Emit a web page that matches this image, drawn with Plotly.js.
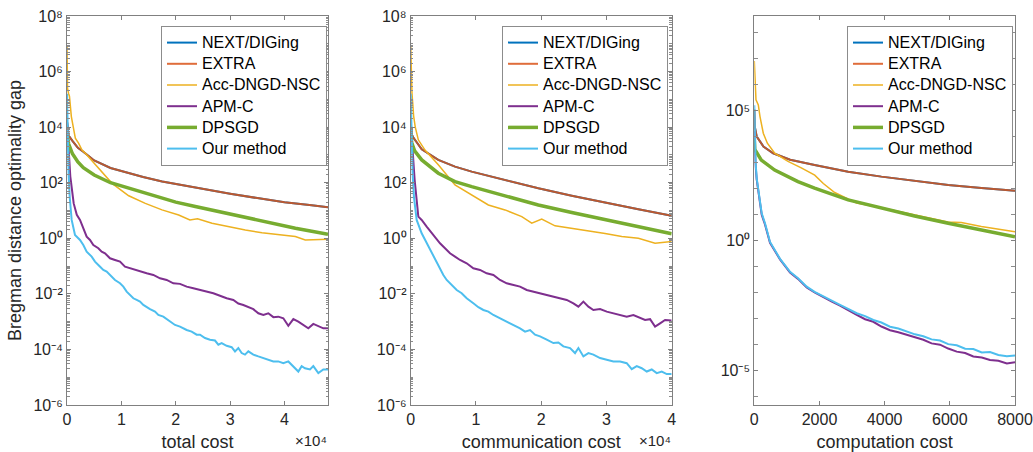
<!DOCTYPE html>
<html><head><meta charset="utf-8">
<script src="https://cdn.plot.ly/plotly-3.0.1.min.js"></script>
<style>html,body{margin:0;padding:0;background:#fff;} #chart{width:1033px;height:452px;}</style>
</head><body><div id="chart"></div>
<script>
// ---------- Series names ----------
const seriesNames = ['NEXT/DIGing','EXTRA','Acc-DNGD-NSC','APM-C','DPSGD','Our method'];

// ---------- Panel 1: total cost ----------
const tcExtraX = [0, 300, 1000, 2000, 3000, 5000, 8000, 11000, 14000, 17500, 20000, 25000, 30000, 35000, 40000, 45000, 48000];
const tcExtraY = [1.6e4, 5.0e3, 3.2e3, 1.8e3, 1.3e3, 6.3e2, 3.4e2, 2.3e2, 1.6e2, 1.1e2, 89, 59, 40, 28, 20, 15.5, 13.2];
const tcNextX = tcExtraX, tcNextY = tcExtraY; // coincides with EXTRA
const tcAccX = [0, 100, 300, 450, 800, 1230, 1530, 2150, 2760, 3370, 5200, 8280, 11350, 14400, 17470, 20540, 22600, 24000, 26670, 29740, 32790, 35860, 38930, 41990, 43820, 46000, 48000];
const tcAccY = [9.1e6, 2.5e5, 1.6e5, 1.3e5, 2.4e4, 9.1e3, 4.0e3, 2.6e3, 1.5e3, 1.15e3, 4.4e2, 95, 34, 18, 10.5, 6.9, 4.6, 5.0, 3.5, 2.6, 2.0, 1.58, 1.32, 1.15, 0.87, 0.93, 0.93];
const tcApmX = [0, 150, 313, 607, 1230, 1800, 2391, 3004, 3617, 4230, 4843, 5763, 6376, 6989, 7908, 8828, 9747, 10667, 11586, 12506, 13425, 14651, 15877, 17103, 18329, 19555, 20781, 22007, 23233, 24459, 25685, 26911, 28137, 29363, 30589, 31509, 32429, 33348, 34267, 35187, 36106, 37026, 37945, 38865, 39784, 40704, 41623, 42543, 43462, 44381, 45301, 46221, 47140, 48000];
const tcApmY = [1.5e4, 4.0e3, 1.5e3, 1.7e2, 18, 7.0, 4.57, 2.29, 1.15, 0.871, 0.575, 0.437, 0.331, 0.288, 0.191, 0.166, 0.145, 0.0955, 0.0832, 0.0724, 0.0631, 0.0550, 0.0479, 0.0363, 0.0316, 0.0240, 0.0229, 0.0182, 0.0158, 0.0138, 0.0120, 0.0105, 0.00851, 0.00692, 0.00603, 0.0045, 0.00398, 0.00331, 0.00282, 0.00200, 0.00174, 0.00200, 0.00145, 0.00151, 0.00132, 7.1e-4, 0.00123, 0.00100, 7.6e-4, 5.75e-4, 8.3e-4, 7.1e-4, 5.75e-4, 5.75e-4];
const tcDpsX = [0, 300, 1000, 2000, 3000, 5000, 8000, 11000, 14000, 17500, 20000, 23600, 27000, 30000, 33000, 36000, 39000, 42000, 45000, 48000];
const tcDpsY = [6.3e3, 2.5e3, 1.1e3, 5.6e2, 3.5e2, 1.9e2, 1.0e2, 68, 45, 28, 20, 14, 10, 7.4, 5.5, 4.0, 3.0, 2.3, 1.8, 1.4];
const tcOurX = [0, 60, 150, 300, 500, 700, 859, 1472, 2391, 3004, 3617, 4537, 5150, 5763, 6682, 7295, 7908, 8828, 9747, 10360, 10973, 11586, 12199, 12812, 13425, 14038, 14651, 15264, 16184, 16797, 17716, 18329, 19249, 19862, 20781, 21394, 22007, 22927, 23846, 24459, 25379, 26298, 27218, 27831, 28444, 29363, 30283, 30896, 31509, 32122, 32735, 33348, 34267, 35187, 36106, 37026, 37945, 38865, 39784, 40704, 41623, 42543, 43155, 43768, 44688, 45301, 46221, 47140, 48000];
const tcOurY = [1.6e5, 3.0e4, 3.0e3, 2.0e2, 30, 9.0, 4.57, 1.32, 0.871, 0.575, 0.331, 0.219, 0.145, 0.110, 0.0724, 0.0631, 0.0479, 0.0316, 0.0240, 0.0182, 0.0120, 0.00912, 0.00692, 0.00603, 0.00525, 0.00398, 0.00331, 0.00282, 0.00229, 0.00174, 0.00151, 0.00123, 8.71e-4, 7.59e-4, 6.61e-4, 5.75e-4, 5.01e-4, 4.37e-4, 3.39e-4, 3.39e-4, 2.57e-4, 2.24e-4, 2.09e-4, 1.48e-4, 1.70e-4, 1.35e-4, 1.20e-4, 8.5e-5, 1.12e-4, 7.4e-5, 6.5e-5, 8.5e-5, 6.5e-5, 5.6e-5, 4.9e-5, 4.3e-5, 3.7e-5, 3.7e-5, 3.2e-5, 3.7e-5, 2.5e-5, 1.6e-5, 2.5e-5, 2.1e-5, 1.9e-5, 2.5e-5, 1.4e-5, 1.9e-5, 1.9e-5];

// ---------- Panel 2: communication cost ----------
const ccExtraX = [0, 150, 400, 1690, 4230, 6790, 9350, 14460, 19560, 24680, 29790, 34890, 40000];
const ccExtraY = [1.6e4, 5.6e3, 4.2e3, 1.6e3, 6.6e2, 3.8e2, 2.5e2, 1.26e2, 63, 34, 19, 11, 6.5];
const ccNextX = ccExtraX, ccNextY = ccExtraY; // coincides with EXTRA
const ccAccX = [0, 80, 200, 300, 450, 700, 1170, 2190, 4230, 6790, 9350, 11900, 14460, 17020, 18550, 20080, 22120, 24680, 27230, 29790, 32350, 34890, 37450, 40000];
const ccAccY = [9.1e6, 2.5e5, 1.6e5, 7.9e4, 2.5e4, 1.0e4, 3.5e3, 1.5e3, 4.4e2, 83, 36, 15.8, 10.5, 6.0, 3.5, 4.9, 2.8, 2.3, 1.9, 1.5, 1.15, 1.0, 0.66, 0.76];
const ccApmX = [0, 150, 300, 600, 1170, 1682, 2448, 3215, 3981, 4492, 5259, 6025, 6792, 7558, 8580, 9602, 10624, 11646, 12668, 13690, 14712, 15734, 16756, 17778, 18800, 19822, 20844, 21866, 22888, 23910, 24932, 25699, 26465, 27232, 27998, 29020, 30042, 31064, 32086, 33108, 34130, 35152, 35919, 36685, 37452, 38218, 38985, 40000];
const ccApmY = [1.5e4, 4.0e3, 1.2e3, 1.3e2, 6.0, 4.57, 2.63, 1.51, 0.871, 0.661, 0.437, 0.288, 0.219, 0.166, 0.126, 0.0832, 0.0724, 0.0550, 0.0479, 0.0316, 0.0240, 0.0209, 0.0182, 0.0138, 0.0120, 0.0105, 0.00912, 0.00794, 0.00692, 0.00603, 0.00457, 0.00347, 0.00525, 0.00347, 0.00263, 0.00282, 0.00229, 0.00200, 0.00174, 0.00151, 0.00174, 0.00132, 0.00115, 0.00123, 6.6e-4, 8.7e-4, 0.00115, 0.00110];
const ccDpsX = [0, 150, 600, 1690, 4230, 6790, 9350, 14460, 19560, 24680, 29790, 34890, 40000];
const ccDpsY = [7.9e3, 2.8e3, 1.4e3, 6.6e2, 2.2e2, 1.1e2, 72, 34, 15.8, 8.5, 4.6, 2.6, 1.45];
const ccOurX = [0, 60, 150, 300, 500, 700, 915, 1682, 2448, 3215, 3981, 4492, 5003, 5514, 6281, 7047, 7814, 8580, 9602, 10369, 11135, 11902, 12668, 13690, 14712, 15734, 16756, 17523, 18289, 19056, 19822, 20844, 21866, 22633, 23399, 24421, 25188, 25699, 26465, 27232, 27998, 29020, 30042, 31064, 32086, 33108, 33875, 34641, 35408, 36174, 36941, 37707, 38474, 39240, 40000];
const ccOurY = [1.6e5, 3.0e4, 3.0e3, 2.0e2, 30, 9.0, 4.57, 1.51, 0.661, 0.288, 0.126, 0.0724, 0.0479, 0.0316, 0.0209, 0.0138, 0.0105, 0.00692, 0.00457, 0.00331, 0.00263, 0.00229, 0.00174, 0.00132, 0.00100, 7.6e-4, 5.75e-4, 4.37e-4, 5.0e-4, 3.39e-4, 2.95e-4, 2.24e-4, 1.70e-4, 1.78e-4, 1.29e-4, 1.12e-4, 7.4e-5, 1.12e-4, 5.6e-5, 7.4e-5, 6.5e-5, 4.9e-5, 4.3e-5, 3.7e-5, 3.7e-5, 3.2e-5, 1.95e-5, 2.5e-5, 2.1e-5, 1.6e-5, 1.9e-5, 1.4e-5, 1.6e-5, 1.3e-5, 1.3e-5];

// ---------- Panel 3: computation cost ----------
const cpExtraX = [0, 12, 75, 280, 580, 1100, 1850, 2880, 3900, 4920, 5950, 6970, 8000];
const cpExtraY = [1.1e5, 2.5e4, 1.0e4, 4.2e3, 2.3e3, 1.3e3, 8.1e2, 4.5e2, 2.9e2, 1.95e2, 1.38e2, 1.07e2, 83];
const cpNextX = cpExtraX, cpNextY = cpExtraY; // coincides with EXTRA
const cpAccX = [0, 52, 123, 175, 276, 400, 626, 1034, 1442, 1854, 2118, 2467, 2876, 3143, 3898, 4923, 5945, 6353, 6967, 8000];
const cpAccY = [8.1e6, 2.6e5, 1.66e5, 5.9e4, 1.35e4, 5.6e3, 2.3e3, 1.12e3, 6.3e2, 3.3e2, 1.58e2, 71, 40, 28, 18.6, 10, 5.2, 5.0, 3.5, 2.2];
const cpApmX = [0, 12, 40, 74, 114, 175, 227, 328, 482, 789, 1096, 1341, 1608, 1850, 2118, 2380, 2630, 2880, 3143, 3400, 3652, 3900, 4165, 4420, 4677, 4930, 5187, 5440, 5699, 5950, 6212, 6470, 6721, 6980, 7233, 7490, 7750, 8000];
const cpApmY = [1.6e4, 4.0e3, 7.9e2, 2.2e2, 89, 24, 10, 4.2, 0.83, 0.19, 0.060, 0.034, 0.0158, 0.0102, 0.0066, 0.0045, 0.0032, 0.0021, 0.00141, 9.5e-4, 7.6e-4, 5.0e-4, 3.6e-4, 3.0e-4, 2.4e-4, 2.0e-4, 1.55e-4, 1.12e-4, 1.0e-4, 7.1e-5, 5.4e-5, 4.8e-5, 3.5e-5, 3.2e-5, 2.6e-5, 2.4e-5, 1.9e-5, 2.1e-5];
const cpDpsX = [0, 15, 215, 625, 1340, 1850, 2880, 3900, 4920, 5950, 6970, 8000];
const cpDpsY = [7.9e3, 3.2e3, 1.26e3, 5.2e2, 1.86e2, 1.05e2, 37, 17.8, 8.9, 4.7, 2.6, 1.41];
const cpOurX = [0, 12, 40, 74, 114, 175, 227, 328, 482, 789, 1096, 1341, 1608, 1850, 2118, 2380, 2630, 2880, 3143, 3400, 3652, 3900, 4165, 4420, 4677, 4930, 5187, 5440, 5699, 5950, 6212, 6470, 6721, 6980, 7233, 7490, 7750, 8000];
const cpOurY = [1.6e5, 7.1e3, 1.0e3, 2.5e2, 1.0e2, 25, 11.2, 4.7, 0.89, 0.20, 0.063, 0.036, 0.017, 0.0107, 0.0071, 0.0050, 0.0034, 0.0024, 0.00162, 0.00126, 8.9e-4, 7.1e-4, 4.9e-4, 4.2e-4, 3.2e-4, 2.5e-4, 2.1e-4, 1.6e-4, 1.45e-4, 1.05e-4, 9.5e-5, 7.0e-5, 6.8e-5, 5.0e-5, 5.2e-5, 4.0e-5, 3.6e-5, 3.8e-5];

// ---------- Tick labels ----------
const xTickVals12 = [0, 10000, 20000, 30000, 40000];
const xTickText12 = ['0', '1', '2', '3', '4'];
const xTickVals3 = [0, 2000, 4000, 6000, 8000];
const xTickText3 = ['0', '2000', '4000', '6000', '8000'];
const yTickVals12 = [1e-6, 1e-4, 1e-2, 1, 1e2, 1e4, 1e6, 1e8];
const yTickText12 = ['10⁻⁶', '10⁻⁴', '10⁻²', '10⁰', '10²', '10⁴', '10⁶', '10⁸'];
const yTickVals3 = [1e-5, 1, 1e5];
const yTickText3 = ['10⁻⁵', '10⁰', '10⁵'];
const xExponentLabel = '×10⁴';

// ---------- Styling ----------
const W = 1033, H = 452;
const colors = ['#0072BD', '#D95319', '#EDB120', '#7E2F8E', '#77AC30', '#4DBEEE'];
const widths = [2, 2, 1.5, 2, 3.5, 2];

// minor tick positions (axis decoration)
const minor12 = [], minor3 = [];
for (let e = -6; e <= 8; e++) {
  if (e % 2 !== 0) minor12.push(Math.pow(10, e));
  if (e < 8) for (let m = 2; m <= 9; m++) minor12.push(m * Math.pow(10, e));
  if (e !== -5 && e !== 0 && e !== 5) minor3.push(Math.pow(10, e));
}

const traces = [];
function addPanel(k, sets) {
  const s = k === 1 ? '' : String(k);
  sets.forEach((d, i) => {
    traces.push({
      type: 'scatter', mode: 'lines', x: d[0], y: d[1],
      name: '<span style="font-size:16px">' + seriesNames[i] + '</span>',
      xaxis: 'x' + s, yaxis: 'y' + s, legend: 'legend' + s,
      line: {color: colors[i], width: widths[i]},
      opacity: i === 1 ? 0.85 : 1, hoverinfo: 'skip'
    });
  });
}
addPanel(1, [[tcNextX, tcNextY], [tcExtraX, tcExtraY], [tcAccX, tcAccY], [tcApmX, tcApmY], [tcDpsX, tcDpsY], [tcOurX, tcOurY]]);
addPanel(2, [[ccNextX, ccNextY], [ccExtraX, ccExtraY], [ccAccX, ccAccY], [ccApmX, ccApmY], [ccDpsX, ccDpsY], [ccOurX, ccOurY]]);
addPanel(3, [[cpNextX, cpNextY], [cpExtraX, cpExtraY], [cpAccX, cpAccY], [cpApmX, cpApmY], [cpDpsX, cpDpsY], [cpOurX, cpOurY]]);

const axBase = {
  showline: true, linecolor: '#808080', linewidth: 1, mirror: 'ticks',
  ticks: 'inside', ticklen: 4, tickcolor: '#808080', tickwidth: 1,
  showgrid: false, zeroline: false, fixedrange: true
};
const yDom = [1 - 405 / H, 1 - 16 / H];
function xAx(dom, range, tv, tt, title, anchor) {
  return Object.assign({}, axBase, {
    domain: dom, range: range, anchor: anchor, tickmode: 'array', tickvals: tv, ticktext: tt,
    tickfont: {size: 16, color: '#262626'},
    title: {text: title, font: {size: 18, color: '#262626'}, standoff: 8}
  });
}
function yAx(range, tv, tt, anchor, minorVals, minorLen, title) {
  const a = Object.assign({}, axBase, {
    domain: yDom, type: 'log', range: range, anchor: anchor, tickmode: 'array',
    tickvals: tv, ticktext: tt, tickfont: {size: 16, color: '#262626'},
    minor: {tickmode: 'array', tickvals: minorVals, ticks: 'inside', ticklen: minorLen, tickcolor: '#8c8c8c', showgrid: false}
  });
  if (title) a.title = {text: title, font: {size: 18, color: '#262626'}};
  return a;
}
function leg(xpx) {
  return {x: xpx / W, xanchor: 'left', y: 1 - 26 / H, yanchor: 'top', bgcolor: '#ffffff',
    bordercolor: '#8c8c8c', borderwidth: 1, font: {size: 14, color: '#000000'}, tracegroupgap: 0,
    itemclick: false, itemdoubleclick: false};
}

const layout = {
  width: W, height: H, margin: {l: 0, r: 0, t: 0, b: 0},
  paper_bgcolor: '#ffffff', plot_bgcolor: '#ffffff', showlegend: true,
  font: {family: 'Liberation Sans, Arial, Helvetica, sans-serif', color: '#262626'},
  xaxis: xAx([67 / W, 328 / W], [0, 48000], xTickVals12, xTickText12, 'total cost', 'y'),
  yaxis: yAx([-6, 8], yTickVals12, yTickText12, 'x', minor12, 2.5, 'Bregman distance optimality gap'),
  xaxis2: xAx([410.7 / W, 671.7 / W], [0, 40000], xTickVals12, xTickText12, 'communication cost', 'y2'),
  yaxis2: yAx([-6, 8], yTickVals12, yTickText12, 'x2', minor12, 2.5, null),
  xaxis3: xAx([754.3 / W, 1015 / W], [0, 8000], xTickVals3, xTickText3, 'computation cost', 'y3'),
  yaxis3: yAx([-6.32, 8.64], yTickVals3, yTickText3, 'x3', minor3, 4, null),
  legend: leg(161), legend2: leg(502), legend3: leg(847),
  annotations: [
    {xref: 'paper', yref: 'paper', x: 329 / W, y: 1 - 451 / H, xanchor: 'right', yanchor: 'bottom',
     text: xExponentLabel, showarrow: false, font: {size: 15, color: '#262626'}},
    {xref: 'paper', yref: 'paper', x: 673 / W, y: 1 - 451 / H, xanchor: 'right', yanchor: 'bottom',
     text: xExponentLabel, showarrow: false, font: {size: 15, color: '#262626'}}
  ]
};

Plotly.newPlot('chart', traces, layout, {staticPlot: true, displayModeBar: false});
</script>
</body></html>
